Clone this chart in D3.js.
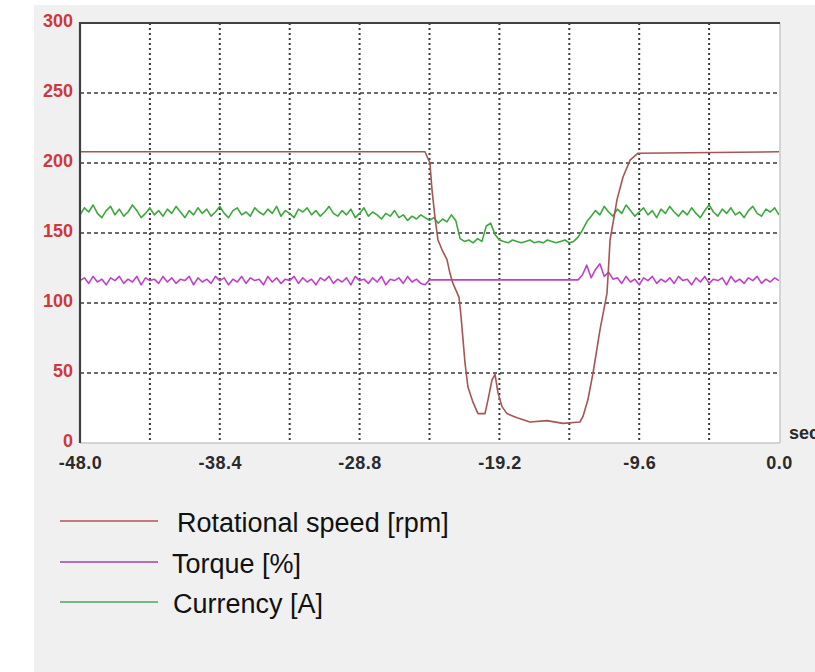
<!DOCTYPE html>
<html><head><meta charset="utf-8">
<script src="https://cdn.jsdelivr.net/npm/d3@7"></script>
<style>html,body{margin:0;padding:0;background:#fff;overflow:hidden}</style>
</head><body>
<svg id="chart" width="815" height="672"></svg>
<script>
// ---------- data ----------
const yTicks = [0, 50, 100, 150, 200, 250, 300];
const xTicks = [-48, -38.4, -28.8, -19.2, -9.6, 0];
const xTickLabels = ["-48.0", "-38.4", "-28.8", "-19.2", "-9.6", "0.0"];
const xGrid = [-43.2, -38.4, -33.6, -28.8, -24, -19.2, -14.4, -9.6, -4.8];
const yGrid = [50, 100, 150, 200, 250];
const seriesNames = ["Rotational speed [rpm]", "Torque [%]", "Currency [A]"];
const seriesColors = ["#a85454", "#c040c8", "#3ca83c"];
const legendColors = ["#c07c7c", "#b46cc4", "#74b884"];

// rotational speed: time [s], value [rpm]
const speedT = [-48, -24.31, -23.97, -23.83, -23.62, -23.42, -23.14, -22.80, -22.59, -22.39, -22.18, -21.97,
  -21.84, -21.70, -21.56, -21.36, -21.01, -20.67, -20.19, -19.98, -19.71, -19.50, -19.30, -19.02, -18.68,
  -17.99, -17.10, -15.93, -14.83, -13.67, -13.46, -13.12, -12.77, -12.29, -11.81, -11.60, -11.12, -10.71,
  -10.23, -9.68, 0];
const speedV = [208, 208, 200, 181, 161, 145, 138, 131, 121, 114, 109, 104,
  91, 74, 57, 40, 29, 21, 21, 31, 45, 49, 36, 26, 21,
  18, 15, 16, 14, 15, 19, 31, 50, 81, 107, 145, 174, 190,
  202, 207, 208];

// torque and current sampled every 0.3 s from -48 s
const sampleStart = -48, sampleStep = 0.3;
const torqueV = [
  116,118,114,119,115,117,113,118,116,119,114,117,115,119,113,118,116,117,114,119,
  115,118,114,117,116,119,113,118,115,117,114,119,116,118,113,117,115,119,114,118,
  116,117,113,119,115,118,114,117,116,119,114,118,115,117,113,118,116,119,114,117,
  115,118,113,119,116,117,114,118,115,119,113,117,116,118,114,119,115,117,114,113,
  116.5,116.5,116.5,116.5,116.5,116.5,116.5,116.5,116.5,116.5,116.5,116.5,116.5,116.5,116.5,
  116.5,116.5,116.5,116.5,116.5,116.5,116.5,116.5,116.5,116.5,116.5,116.5,116.5,116.5,116.5,
  116.5,116.5,116.5,116.5,116.5,
  120,127,118,124,128,119,122,117,
  118,114,119,115,117,113,118,116,119,114,117,115,118,114,119,116,117,113,118,115,
  119,114,117,116,118,113,119,115,117,114,118,116,119,114,117,115,118,116
];
const currentV = [
  163,168,165,170,164,161,166,169,163,167,162,165,170,166,161,164,168,163,166,162,
  167,164,169,165,161,166,163,168,164,167,162,165,169,164,161,166,168,163,165,162,
  168,165,163,167,164,169,162,166,164,161,167,165,168,163,166,162,165,169,164,162,
  166,163,167,161,164,168,162,165,163,160,164,162,166,161,163,159,162,160,163,161,
  159,161,157,160,158,163,159,
  146,144,145,143,146,144,
  155,157,149,
  145,144,143,145,144,143,144,145,143,144,143,145,144,143,144,145,143,144,
  147,152,158,162,166,
  163,169,165,162,167,164,170,166,162,165,168,163,166,161,167,164,169,165,162,166,
  163,168,164,161,166,170,165,162,167,164,168,163,165,161,166,169,164,162,167,165,
  168,163
];

// ---------- drawing ----------
const svg = d3.select("#chart");
const plot = {left: 80, right: 779, top: 23, bottom: 443};
const x = d3.scaleLinear().domain([-48, 0]).range([plot.left, plot.right]);
const y = d3.scaleLinear().domain([0, 300]).range([plot.bottom, plot.top]);

// panel background
svg.append("rect").attr("x", 34).attr("y", 5).attr("width", 781).attr("height", 667).attr("fill", "#f0f0f0");
svg.append("rect").attr("x", plot.left).attr("y", plot.top)
  .attr("width", plot.right + 1 - plot.left).attr("height", plot.bottom - plot.top).attr("fill", "#ffffff");

svg.append("defs").append("clipPath").attr("id", "clip")
  .append("rect").attr("x", plot.left).attr("y", plot.top)
  .attr("width", plot.right + 1 - plot.left).attr("height", plot.bottom - plot.top);

// grid
const grid = svg.append("g");
grid.selectAll("line.h").data(yGrid).join("line").attr("class", "h")
  .attr("x1", plot.left).attr("x2", plot.right + 1)
  .attr("y1", d => y(d)).attr("y2", d => y(d))
  .attr("stroke", "#3a3a3a").attr("stroke-width", 1.6).attr("stroke-dasharray", "4,3");
grid.selectAll("line.v").data(xGrid).join("line").attr("class", "v")
  .attr("y1", plot.top).attr("y2", plot.bottom)
  .attr("x1", d => x(d)).attr("x2", d => x(d))
  .attr("stroke", "#3a3a3a").attr("stroke-width", 2).attr("stroke-dasharray", "2,3");

// series
const lines = svg.append("g").attr("clip-path", "url(#clip)");
const sampled = vals => vals.map((v, i) => [sampleStart + i * sampleStep, v]);
const lineGen = d3.line().x(d => x(d[0])).y(d => y(d[1]));
lines.append("path").datum(sampled(currentV)).attr("d", lineGen)
  .attr("fill", "none").attr("stroke", seriesColors[2]).attr("stroke-width", 1.6).attr("stroke-linejoin", "round");
lines.append("path").datum(sampled(torqueV)).attr("d", lineGen)
  .attr("fill", "none").attr("stroke", seriesColors[1]).attr("stroke-width", 1.6).attr("stroke-linejoin", "round");
lines.append("path").datum(speedT.map((t, i) => [t, speedV[i]])).attr("d", lineGen)
  .attr("fill", "none").attr("stroke", seriesColors[0]).attr("stroke-width", 1.6).attr("stroke-linejoin", "round");

// borders (sunken look)
svg.append("line").attr("x1", plot.left).attr("x2", plot.right + 1).attr("y1", plot.bottom).attr("y2", plot.bottom)
  .attr("stroke", "#c8c8c8").attr("stroke-width", 1.5);
svg.append("line").attr("x1", plot.right + 1).attr("x2", plot.right + 1).attr("y1", plot.top).attr("y2", plot.bottom)
  .attr("stroke", "#c8c8c8").attr("stroke-width", 1.5);
svg.append("line").attr("x1", plot.left).attr("x2", plot.right + 1).attr("y1", plot.top).attr("y2", plot.top)
  .attr("stroke", "#404040").attr("stroke-width", 2.2);
svg.append("line").attr("x1", plot.left).attr("x2", plot.left).attr("y1", plot.top - 1).attr("y2", plot.bottom)
  .attr("stroke", "#404040").attr("stroke-width", 2.2);

// axes
const yAxis = svg.append("g").attr("transform", `translate(${plot.left - 7},0)`)
  .call(d3.axisLeft(y).tickValues(yTicks).tickSize(0).tickPadding(0).tickFormat(d3.format("d")));
yAxis.select(".domain").remove();
yAxis.selectAll("text").attr("fill", "#cc3a3a").attr("font-family", "'Liberation Sans', Arial, sans-serif")
  .attr("font-weight", "bold").attr("font-size", 18).attr("dy", "0.2em");

const xAxis = svg.append("g").attr("transform", `translate(0,${plot.bottom + 12})`)
  .call(d3.axisBottom(x).tickValues(xTicks).tickSize(0).tickPadding(0).tickFormat((d, i) => xTickLabels[i]));
xAxis.select(".domain").remove();
xAxis.selectAll("text").attr("fill", "#2a2a2a").attr("font-family", "'Liberation Sans', Arial, sans-serif")
  .attr("font-weight", "bold").attr("font-size", 18).attr("letter-spacing", "0.5px").attr("dy", "0.75em");

svg.append("text").attr("x", 789).attr("y", 439).text("sec")
  .attr("fill", "#2a2a2a").attr("font-family", "'Liberation Sans', Arial, sans-serif")
  .attr("font-weight", "bold").attr("font-size", 18);

// legend
const legendY = [521, 562, 602];
const legendTextX = [177, 172, 173];
const legend = svg.append("g");
seriesNames.forEach((name, i) => {
  legend.append("line").attr("x1", 60).attr("x2", 158).attr("y1", legendY[i]).attr("y2", legendY[i])
    .attr("stroke", legendColors[i]).attr("stroke-width", 2);
  legend.append("text").attr("x", legendTextX[i]).attr("y", legendY[i] + 11).text(name)
    .attr("fill", "#111").attr("font-family", "'Liberation Sans', Arial, sans-serif").attr("font-size", 27);
});
</script>
</body></html>
